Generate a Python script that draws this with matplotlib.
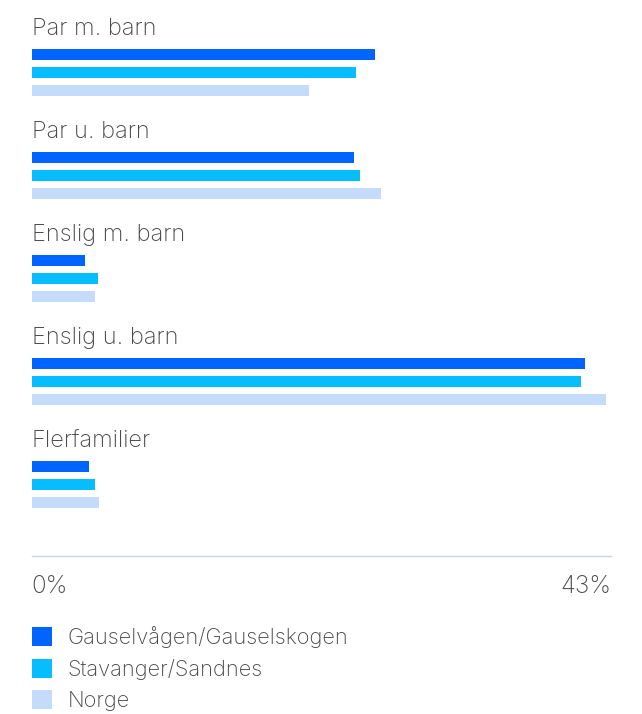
import matplotlib
matplotlib.use("Agg")
import matplotlib.pyplot as plt
from matplotlib.patches import Patch

categories = ["Par m. barn", "Par u. barn", "Enslig m. barn", "Enslig u. barn", "Flerfamilier"]
series_names = ["Gauselvågen/Gauselskogen", "Stavanger/Sandnes", "Norge"]
gausel = [25.5, 23.9, 4.0, 41.1, 4.3]
stavanger = [24.1, 24.4, 4.9, 40.8, 4.7]
norge = [20.6, 25.9, 4.7, 42.6, 5.0]
x_max = 43
tick_labels = ["0%", "43%"]

colors = ["#0064FF", "#06BEFF", "#C5DBFB"]
text_color = "#4a4a4a"
plt.rcParams['font.family'] = ['Inter', 'DejaVu Sans']

W, H = 642, 714
fig = plt.figure(figsize=(W / 100, H / 100), dpi=100)
left_px, right_px, axis_px = 31.5, 611, 556
ax = fig.add_axes([left_px / W, 1 - axis_px / H, (right_px - left_px) / W, axis_px / H])

group_px = 103.0
first_px = 54.5
bar_step = 18.0 / group_px
bar_h = 10.8 / group_px

series = [gausel, stavanger, norge]
for s, (vals, c) in enumerate(zip(series, colors)):
    ys = [i + s * bar_step for i in range(len(categories))]
    ax.barh(ys, vals, height=bar_h, color=c, edgecolor="none")

for i, cat in enumerate(categories):
    ax.text(0, i - (first_px - 35) / group_px, cat, fontsize=17, color=text_color,
            va="baseline", ha="left", fontweight="light")

ax.set_xlim(0, x_max)
ax.set_ylim((axis_px - first_px) / group_px, -first_px / group_px)
for sp in ["top", "right", "left"]:
    ax.spines[sp].set_visible(False)
ax.spines["bottom"].set_color("#C9D5E2")
ax.spines["bottom"].set_linewidth(1.0)
ax.set_yticks([])
ax.set_xticks([0, x_max])
ax.set_xticklabels(tick_labels, fontsize=17.5, color=text_color, fontweight="light")
ax.tick_params(axis="x", length=0, pad=14)
labs = ax.get_xticklabels()
labs[0].set_ha("left")
labs[1].set_ha("right")

handles = [Patch(facecolor=c, edgecolor="none") for c in colors]
fs = 15.7
fig.legend(handles, series_names, loc="upper left",
           bbox_to_anchor=(left_px / W, 1 - 626 / H), frameon=False,
           prop={"size": fs, "weight": "light"}, labelcolor=text_color,
           handlelength=0.96, handleheight=0.96, handletextpad=0.68,
           labelspacing=0.49, borderpad=0, borderaxespad=0)

fig.savefig("out.png", dpi=100, facecolor="white")
